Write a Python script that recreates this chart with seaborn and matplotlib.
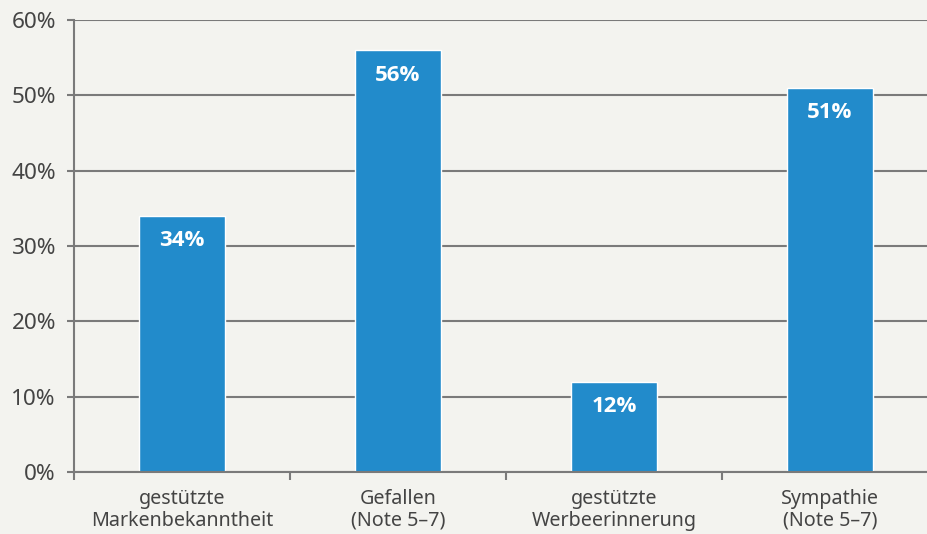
import matplotlib
matplotlib.use("Agg")
import matplotlib.pyplot as plt
import seaborn as sns
import pandas as pd
from matplotlib.ticker import FixedLocator, PercentFormatter

categories = ["gestützte\nMarkenbekanntheit", "Gefallen\n(Note 5–7)",
              "gestützte\nWerbeerinnerung", "Sympathie\n(Note 5–7)"]
values = [34, 56, 12, 51]
yticks = [0, 10, 20, 30, 40, 50, 60]

df = pd.DataFrame({"cat": categories, "val": values})

sns.set_theme(style="white")
plt.rcParams['font.family'] = ['Noto Sans', 'DejaVu Sans']

bg = "#F3F3EF"
grey = "#7A7A7A"
txt = "#444444"
blue = "#228BCB"

fig = plt.figure(figsize=(9.28, 5.34), dpi=100, facecolor=bg)
ax = fig.add_axes([74/928, 62/534, 864/928, 452/534])
ax.set_facecolor(bg)

sns.barplot(data=df, x="cat", y="val", color=blue, saturation=1, width=0.4, ax=ax, zorder=3)

ax.set_ylim(0, 60)
ax.set_xlim(-0.5, len(categories) - 0.5)
ax.set_yticks(yticks)
ax.yaxis.set_major_formatter(PercentFormatter(decimals=0))
ax.yaxis.grid(True, color=grey, linewidth=1.5, zorder=0)
ax.set_axisbelow(True)

for s in ["top", "right"]:
    ax.spines[s].set_visible(False)
for s in ["left", "bottom"]:
    ax.spines[s].set_color(grey)
    ax.spines[s].set_linewidth(1.5)
    ax.spines[s].set_zorder(4)

ax.tick_params(axis="y", length=5, width=1.5, color=grey, pad=8, labelsize=16.2, labelcolor=txt, left=True)
ax.tick_params(axis="x", which="major", length=0, pad=12, labelsize=14.2, labelcolor=txt)
ax.xaxis.set_minor_locator(FixedLocator([i - 0.5 for i in range(len(categories) + 1)]))
ax.tick_params(axis="x", which="minor", length=6, width=1.5, color=grey, bottom=True)
for lab in ax.get_xticklabels():
    lab.set_linespacing(1.15)

ax.set_xlabel("")
ax.set_ylabel("")

for i, v in enumerate(values):
    ax.annotate(f"{v}%", (i, v), xytext=(0, -25), textcoords="offset pixels",
                ha="center", va="center", color="white", fontsize=16,
                fontweight="bold", family=["Open Sans", "Lato", "DejaVu Sans"], zorder=5)

fig.savefig("out.png", dpi=100, facecolor=bg)
